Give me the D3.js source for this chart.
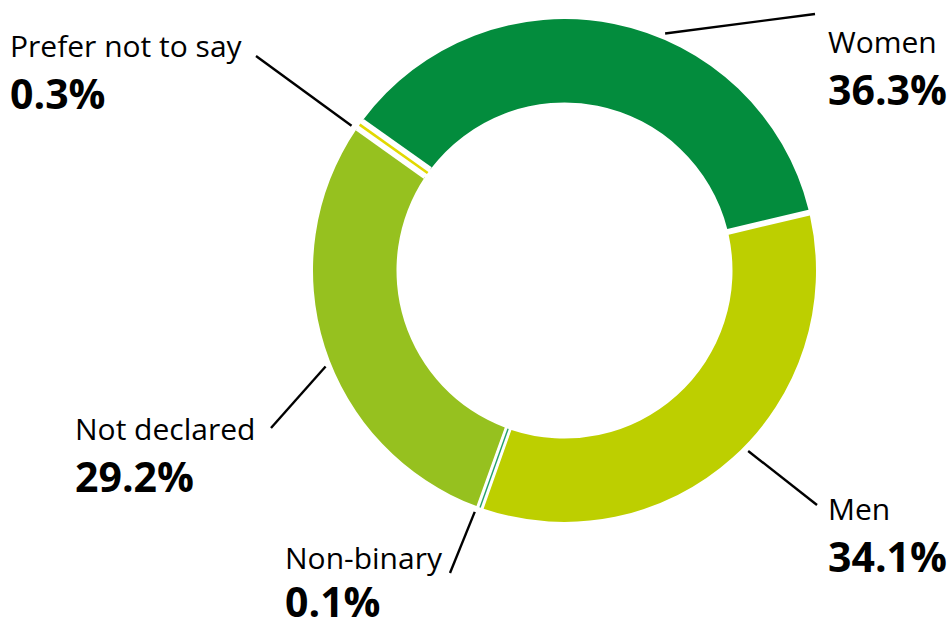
<!DOCTYPE html>
<html>
<head>
<meta charset="utf-8">
<script src="https://cdn.jsdelivr.net/npm/d3@7"></script>
<style>
  html, body { margin: 0; padding: 0; background: #ffffff; }
  svg { display: block; }
  text { font-family: "Open Sans", "Noto Sans", sans-serif; fill: #000; }
</style>
</head>
<body>
<svg id="chart" width="952" height="630"></svg>
<script>
// ---- data ----
const categories = ["Women", "Men", "Non-binary", "Not declared", "Prefer not to say"];
const values = [36.3, 34.1, 0.1, 29.2, 0.3];
const valueLabels = ["36.3%", "34.1%", "0.1%", "29.2%", "0.3%"];
const colors = ["#038C3D", "#BDCF00", "#23A06A", "#96C11F", "#E2D900"];

// ---- layout ----
const W = 952, H = 630;
const cx = 564.5, cy = 270.5;
const outerR = 251.5, innerR = 168;
const gap = 6;                 // white gap between slices (px)
const startDeg = -54;          // where the first slice begins (clockwise from 12 o'clock)
const tinyLimit = 0.5;         // slices below this share (%) are drawn as thin lines
// label placement: anchor angle of the leader on the ring, leader end, text position, line gap
const labelLayout = [
  { angle: 23.0,  end: [815, 14],  tx: 828, ty: 53,  dy: 52, anchor: "start" },
  { angle: 134.5, end: [817, 505], tx: 828, ty: 520, dy: 52, anchor: "start" },
  { angle: 200.4, end: [450, 573], tx: 285, ty: 569, dy: 48, anchor: "start" },
  { angle: 248.1, end: [271, 428], tx: 75,  ty: 440, dy: 52, anchor: "start" },
  { angle: -55.8, end: [256, 56],  tx: 10,  ty: 57,  dy: 52, anchor: "start" }
];

const svg = d3.select("#chart");
const g = svg.append("g").attr("transform", `translate(${cx},${cy})`);

const rad = d => d * Math.PI / 180;
const pie = d3.pie().sort(null).value(d => d)
  .startAngle(rad(startDeg)).endAngle(rad(startDeg) + 2 * Math.PI);
const arcs = pie(values);

const padR = (innerR + outerR) / 2;
const arc = d3.arc().innerRadius(innerR).outerRadius(outerR)
  .padRadius(padR).padAngle(gap / padR);

// regular slices
g.selectAll("path.slice")
  .data(arcs.filter(d => d.value >= tinyLimit))
  .join("path")
  .attr("class", "slice")
  .attr("d", arc)
  .attr("fill", d => colors[d.index]);

// tiny slices: white clearance band + thin coloured stroke at the slice's mid angle
const tiny = arcs.filter(d => d.value < tinyLimit);
const radial = (a, r) => [Math.sin(a) * r, -Math.cos(a) * r];
tiny.forEach(d => {
  const a = (d.startAngle + d.endAngle) / 2;
  const p0 = radial(a, innerR), p1 = radial(a, outerR);
  const bandW = d.value >= 0.2 ? 14 : 6;
  g.append("line")
    .attr("x1", p0[0]).attr("y1", p0[1]).attr("x2", p1[0]).attr("y2", p1[1])
    .attr("stroke", "#fff").attr("stroke-width", bandW);
  g.append("line")
    .attr("x1", p0[0]).attr("y1", p0[1]).attr("x2", p1[0]).attr("y2", p1[1])
    .attr("stroke", colors[d.index]).attr("stroke-width", d.value >= 0.2 ? 2.6 : 1.4);
});

// leaders + labels
const labels = svg.append("g");
categories.forEach((c, i) => {
  const L = labelLayout[i];
  const a = rad(L.angle);
  const s = radial(a, outerR + 6);
  labels.append("line")
    .attr("x1", cx + s[0]).attr("y1", cy + s[1])
    .attr("x2", L.end[0]).attr("y2", L.end[1])
    .attr("stroke", "#000").attr("stroke-width", 2.4);
  labels.append("text")
    .attr("x", L.tx).attr("y", L.ty)
    .attr("text-anchor", L.anchor)
    .style("font-size", "30px").style("font-weight", 400)
    .text(c);
  labels.append("text")
    .attr("x", L.tx).attr("y", L.ty + L.dy)
    .attr("text-anchor", L.anchor)
    .style("font-size", "41px").style("font-weight", 700)
    .text(valueLabels[i]);
});
</script>
</body>
</html>
